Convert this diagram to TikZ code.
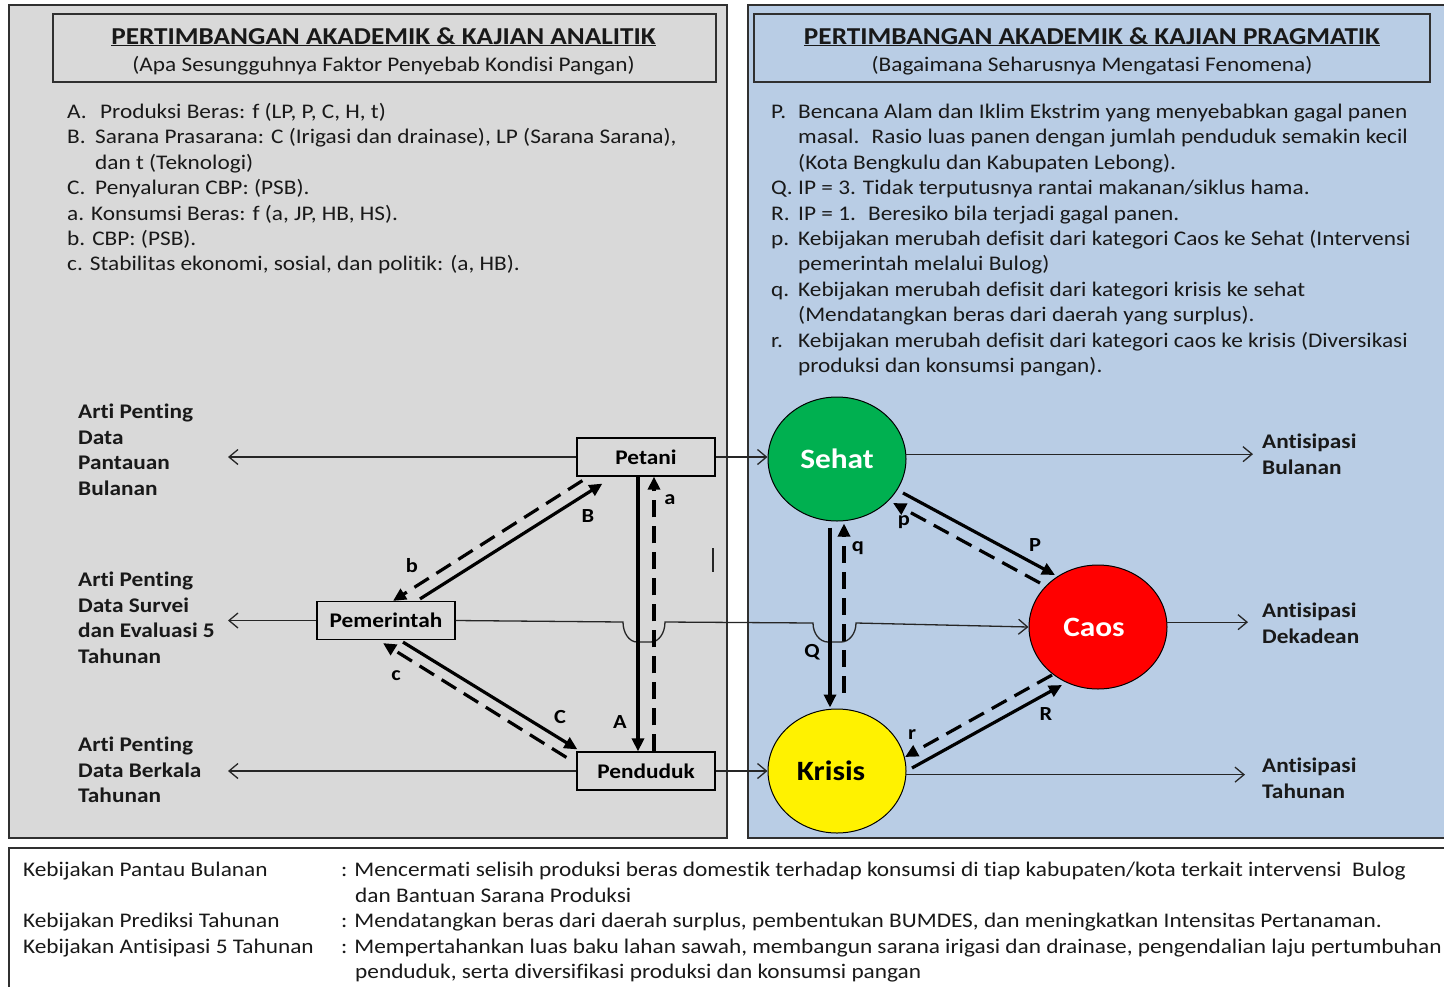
\documentclass[tikz,border=0pt]{standalone}
\usepackage{fontspec}
\setmainfont{Carlito}[FakeStretch=1.12, Ligatures={CommonOff}, Contextuals=AlternateOff]
\usetikzlibrary{arrows.meta,calc,shapes.geometric}
\definecolor{pgray}{HTML}{D9D9D9}
\definecolor{pblue}{HTML}{B9CDE5}
\definecolor{sgreen}{HTML}{00B050}
\definecolor{bordc}{HTML}{303030}
\newcommand\myfs{\fontsize{20.8}{25.4}\selectfont}
\tikzset{
  txt/.style={inner sep=0pt, anchor=base west, font=\myfs, text=black!90},
  btxt/.style={txt, font=\myfs\bfseries},
  ttl/.style={inner sep=0pt, anchor=base, font=\fontsize{24.3}{28}\selectfont\bfseries, text=black!90},
  sub/.style={inner sep=0pt, anchor=base, font=\myfs, text=black!90},
  actor/.style={draw=black, line width=1.2pt, fill=pgray, minimum width=138pt, minimum height=38pt, inner sep=0pt, font=\myfs\bfseries},
  state/.style={ellipse, draw=black, line width=1pt, minimum width=138pt, minimum height=124pt, inner sep=0pt, font=\fontsize{28}{30}\selectfont\bfseries},
  thinarr/.style={line width=1.3pt, draw=black!85, -{Straight Barb[length=9pt,width=15pt]}},
  bigarr/.style={line width=3.2pt, -{Triangle[length=13pt,width=12pt]}},
  bigdash/.style={bigarr, dash pattern=on 17pt off 9pt},
  alab/.style={inner sep=0pt, font=\fontsize{20}{22}\selectfont\bfseries}
}
\begin{document}
\begin{tikzpicture}[x=1pt,y=-1pt]
\useasboundingbox (0,0) rectangle (1444,986);
\fill[white] (0,0) rectangle (1444,986);
% panels
\draw[fill=pgray, draw=bordc, line width=1.4pt] (9,5) rectangle (727,838);
\draw[fill=pblue, draw=bordc, line width=1.4pt] (748,5) rectangle (1470,838);
\draw[draw=bordc, line width=1.4pt] (53,14) rectangle (716,82);
\draw[draw=bordc, line width=1.4pt] (754,14) rectangle (1430,82);
\draw[draw=bordc, line width=1.6pt] (1470,848) -- (9,848) -- (9,1000);
% titles
\node[ttl] (tl1) at (383.5,44) {\underline{PERTIMBANGAN AKADEMIK \& KAJIAN ANALITIK}};
\node[sub] (tl2) at (383.5,71) {(Apa Sesungguhnya Faktor Penyebab Kondisi Pangan)};
\node[ttl] (tr1) at (1092,44) {\underline{PERTIMBANGAN AKADEMIK \& KAJIAN PRAGMATIK}};
\node[sub] (tr2) at (1092,71) {(Bagaimana Seharusnya Mengatasi Fenomena)};
% left list
\node[txt] (la1) at (67,118.5) {A.};
\node[txt] (la2) at (100,118.5) {Produksi Beras: f (LP, P, C, H, t)};
\node[txt] (lb1) at (67,143.9) {B.};
\node[txt] (lb2) at (95,143.9) {Sarana Prasarana: C (Irigasi dan drainase), LP (Sarana Sarana),};
\node[txt] (lb3) at (95,169.3) {dan t (Teknologi)};
\node[txt] (lc1) at (67,194.7) {C.};
\node[txt] (lc2) at (95,194.7) {Penyaluran CBP: (PSB).};
\node[txt] (ld1) at (67,220.1) {a. Konsumsi Beras: f (a, JP, HB, HS).};
\node[txt] (ld2) at (67,245.5) {b. CBP: (PSB).};
\node[txt] (ld3) at (67,270.9) {c. Stabilitas ekonomi, sosial, dan politik: (a, HB).};
% right list
\node[txt] (r1) at (771,118.5) {P.};
\node[txt] (r1b) at (798,118.5) {Bencana Alam dan Iklim Ekstrim yang menyebabkan gagal panen};
\node[txt] (r2b) at (798,143.9) {masal.~ Rasio luas panen dengan jumlah penduduk semakin kecil};
\node[txt] (r3b) at (798,169.3) {(Kota Bengkulu dan Kabupaten Lebong).};
\node[txt] (r4) at (771,194.7) {Q.};
\node[txt] (r4b) at (798,194.7) {IP = 3. Tidak terputusnya rantai makanan/siklus hama.};
\node[txt] (r5) at (771,220.1) {R.};
\node[txt] (r5b) at (798,220.1) {IP = 1.~ Beresiko bila terjadi gagal panen.};
\node[txt] (r6) at (771,245.5) {p.};
\node[txt] (r6b) at (798,245.5) {Kebijakan merubah defisit dari kategori Caos ke Sehat (Intervensi};
\node[txt] (r7b) at (798,270.9) {pemerintah melalui Bulog)};
\node[txt] (r8) at (771,296.3) {q.};
\node[txt] (r8b) at (798,296.3) {Kebijakan merubah defisit dari kategori krisis ke sehat};
\node[txt] (r9b) at (798,321.7) {(Mendatangkan beras dari daerah yang surplus).};
\node[txt] (r10) at (771,347.1) {r.};
\node[txt] (r10b) at (798,347.1) {Kebijakan merubah defisit dari kategori caos ke krisis (Diversikasi};
\node[txt] (r11b) at (798,372.5) {produksi dan konsumsi pangan).};
% left labels
\node[btxt] (g1a) at (78,418.5) {Arti Penting};
\node[btxt] (g1b) at (78,444) {Data};
\node[btxt] (g1c) at (78,469.5) {Pantauan};
\node[btxt] (g1d) at (78,495) {Bulanan};
\node[btxt] (g2a) at (78,586.5) {Arti Penting};
\node[btxt] (g2b) at (78,612) {Data Survei};
\node[btxt] (g2c) at (78,637.5) {dan Evaluasi 5};
\node[btxt] (g2d) at (78,663) {Tahunan};
\node[btxt] (g3a) at (78,751.5) {Arti Penting};
\node[btxt] (g3b) at (78,777) {Data Berkala};
\node[btxt] (g3c) at (78,802.5) {Tahunan};
% right labels
\node[btxt] (h1a) at (1262,448.5) {Antisipasi};
\node[btxt] (h1b) at (1262,474) {Bulanan};
\node[btxt] (h2a) at (1262,617.5) {Antisipasi};
\node[btxt] (h2b) at (1262,643) {Dekadean};
\node[btxt] (h3a) at (1262,772.5) {Antisipasi};
\node[btxt] (h3b) at (1262,798) {Tahunan};
% actors
\node[actor] (petani) at (646,457) {Petani};
\node[actor] (pemerintah) at (386,620.5) {Pemerintah};
\node[actor] (penduduk) at (646,771) {Penduduk};
\node[state, fill=sgreen, text=white] (sehat) at (837,459) {Sehat};
\node[state, fill=red, text=white] (caos) at (1098,627) {\hspace*{-8pt}Caos};
\node[state, fill=yellow, text=black] (krisis) at (837,771) {\hspace*{-12pt}Krisis};
% free ends
\coordinate (e1) at (228,457);
\coordinate (e2) at (228,620.5);
\coordinate (e3) at (228,771);
\coordinate (f1) at (1253,0);
\coordinate (f2) at (1248,0);
\coordinate (f3) at (1245,0);
% thin connectors
\draw[thinarr] (petani.west) -- (e1);
\draw[thinarr] (pemerintah.west) -- (e2);
\draw[thinarr] (penduduk.west) -- (e3);
\draw[thinarr] (petani.east) -- (petani.east -| sehat.west);
\draw[thinarr] (penduduk.east) -- (penduduk.east -| krisis.west);
\draw[thinarr] (sehat.4) -- (sehat.4 -| f1);
\draw[thinarr] (caos.4) -- (caos.4 -| f2);
\draw[thinarr] (krisis.-3) -- (krisis.-3 -| f3);
\draw[thinarr] (pemerintah.east) -- (623,622)
  arc[start angle=180, end angle=90, x radius=14, y radius=20] -- (651,642)
  arc[start angle=90, end angle=0, x radius=14, y radius=20] -- (813,623)
  arc[start angle=180, end angle=90, x radius=15, y radius=19] -- (841,642)
  arc[start angle=90, end angle=0, x radius=15, y radius=19] -- (caos.west);
% left triangle
\draw[bigarr] ([xshift=-8pt]petani.south) -- ([xshift=-8pt]penduduk.north);
\draw[bigdash] ([xshift=8pt]penduduk.north) -- ([xshift=8pt]petani.south);
\draw[bigarr] ($(pemerintah.north)+(34,-2)$) -- ($(petani.south west)+(26,7)$);
\draw[bigdash] ($(petani.south west)+(6,4)$) -- ($(pemerintah.north)+(7,0)$);
\draw[bigarr] ($(pemerintah.south)+(17,2)$) -- ($(penduduk.north west)+(1,-2)$);
\draw[bigdash] ($(penduduk.north west)+(-10,6)$) -- ($(pemerintah.south)+(-3,3)$);
% right triangle
\draw[bigarr] ($(sehat.south)+(-7,6)$) -- ($(krisis.north)+(-7,-1)$);
\draw[bigdash] ($(krisis.north)+(7,-16)$) -- ($(sehat.south)+(7,2)$);
\draw[bigarr] ($(sehat.center)+(66,34)$) -- ($(caos.center)+(-43,-52)$);
\draw[bigdash] ($(caos.center)+(-58,-44)$) -- ($(sehat.center)+(56,44)$);
\draw[bigarr] ($(krisis.center)+(75,-3)$) -- ($(caos.center)+(-36,58)$);
\draw[bigdash] ($(caos.center)+(-46,48)$) -- ($(krisis.center)+(68,-14)$);
% arrow labels
\node[alab] (la) at (670,500) {a};
\node[alab] (lA) at (620,722) {A};
\node[alab] (lB) at (588,516) {B};
\node[alab] (lb) at (412,566) {b};
\node[alab] (lC) at (560,717) {C};
\node[alab] (lc) at (396,676) {c};
\node[alab] (lQ) at (812,652) {Q};
\node[alab] (lq) at (858,548) {q};
\node[alab] (lP) at (1035,545) {P};
\node[alab] (lp) at (904,522) {p};
\node[alab] (lR) at (1046,714) {R};
\node[alab] (lr) at (912,735) {r};
\draw[line width=1.2pt, draw=black!85] (713,548) -- (713,572);
% bottom policies
\node[txt] (k1) at (23,876.5) {Kebijakan Pantau Bulanan};
\node[txt] (k1t) at (341,876.5) {: Mencermati selisih produksi beras domestik terhadap konsumsi di tiap kabupaten/kota terkait intervensi~ Bulog};
\node[txt] (k1u) at (355,902) {dan Bantuan Sarana Produksi};
\node[txt] (k2) at (23,927.5) {Kebijakan Prediksi Tahunan};
\node[txt] (k2t) at (341,927.5) {: Mendatangkan beras dari daerah surplus, pembentukan BUMDES, dan meningkatkan Intensitas Pertanaman.};
\node[txt] (k3) at (23,953) {Kebijakan Antisipasi 5 Tahunan};
\node[txt] (k3t) at (341,953) {: Mempertahankan luas baku lahan sawah, membangun sarana irigasi dan drainase, pengendalian laju pertumbuhan};
\node[txt] (k3u) at (355,978.5) {penduduk, serta diversifikasi produksi dan konsumsi pangan};
\end{tikzpicture}
\end{document}
